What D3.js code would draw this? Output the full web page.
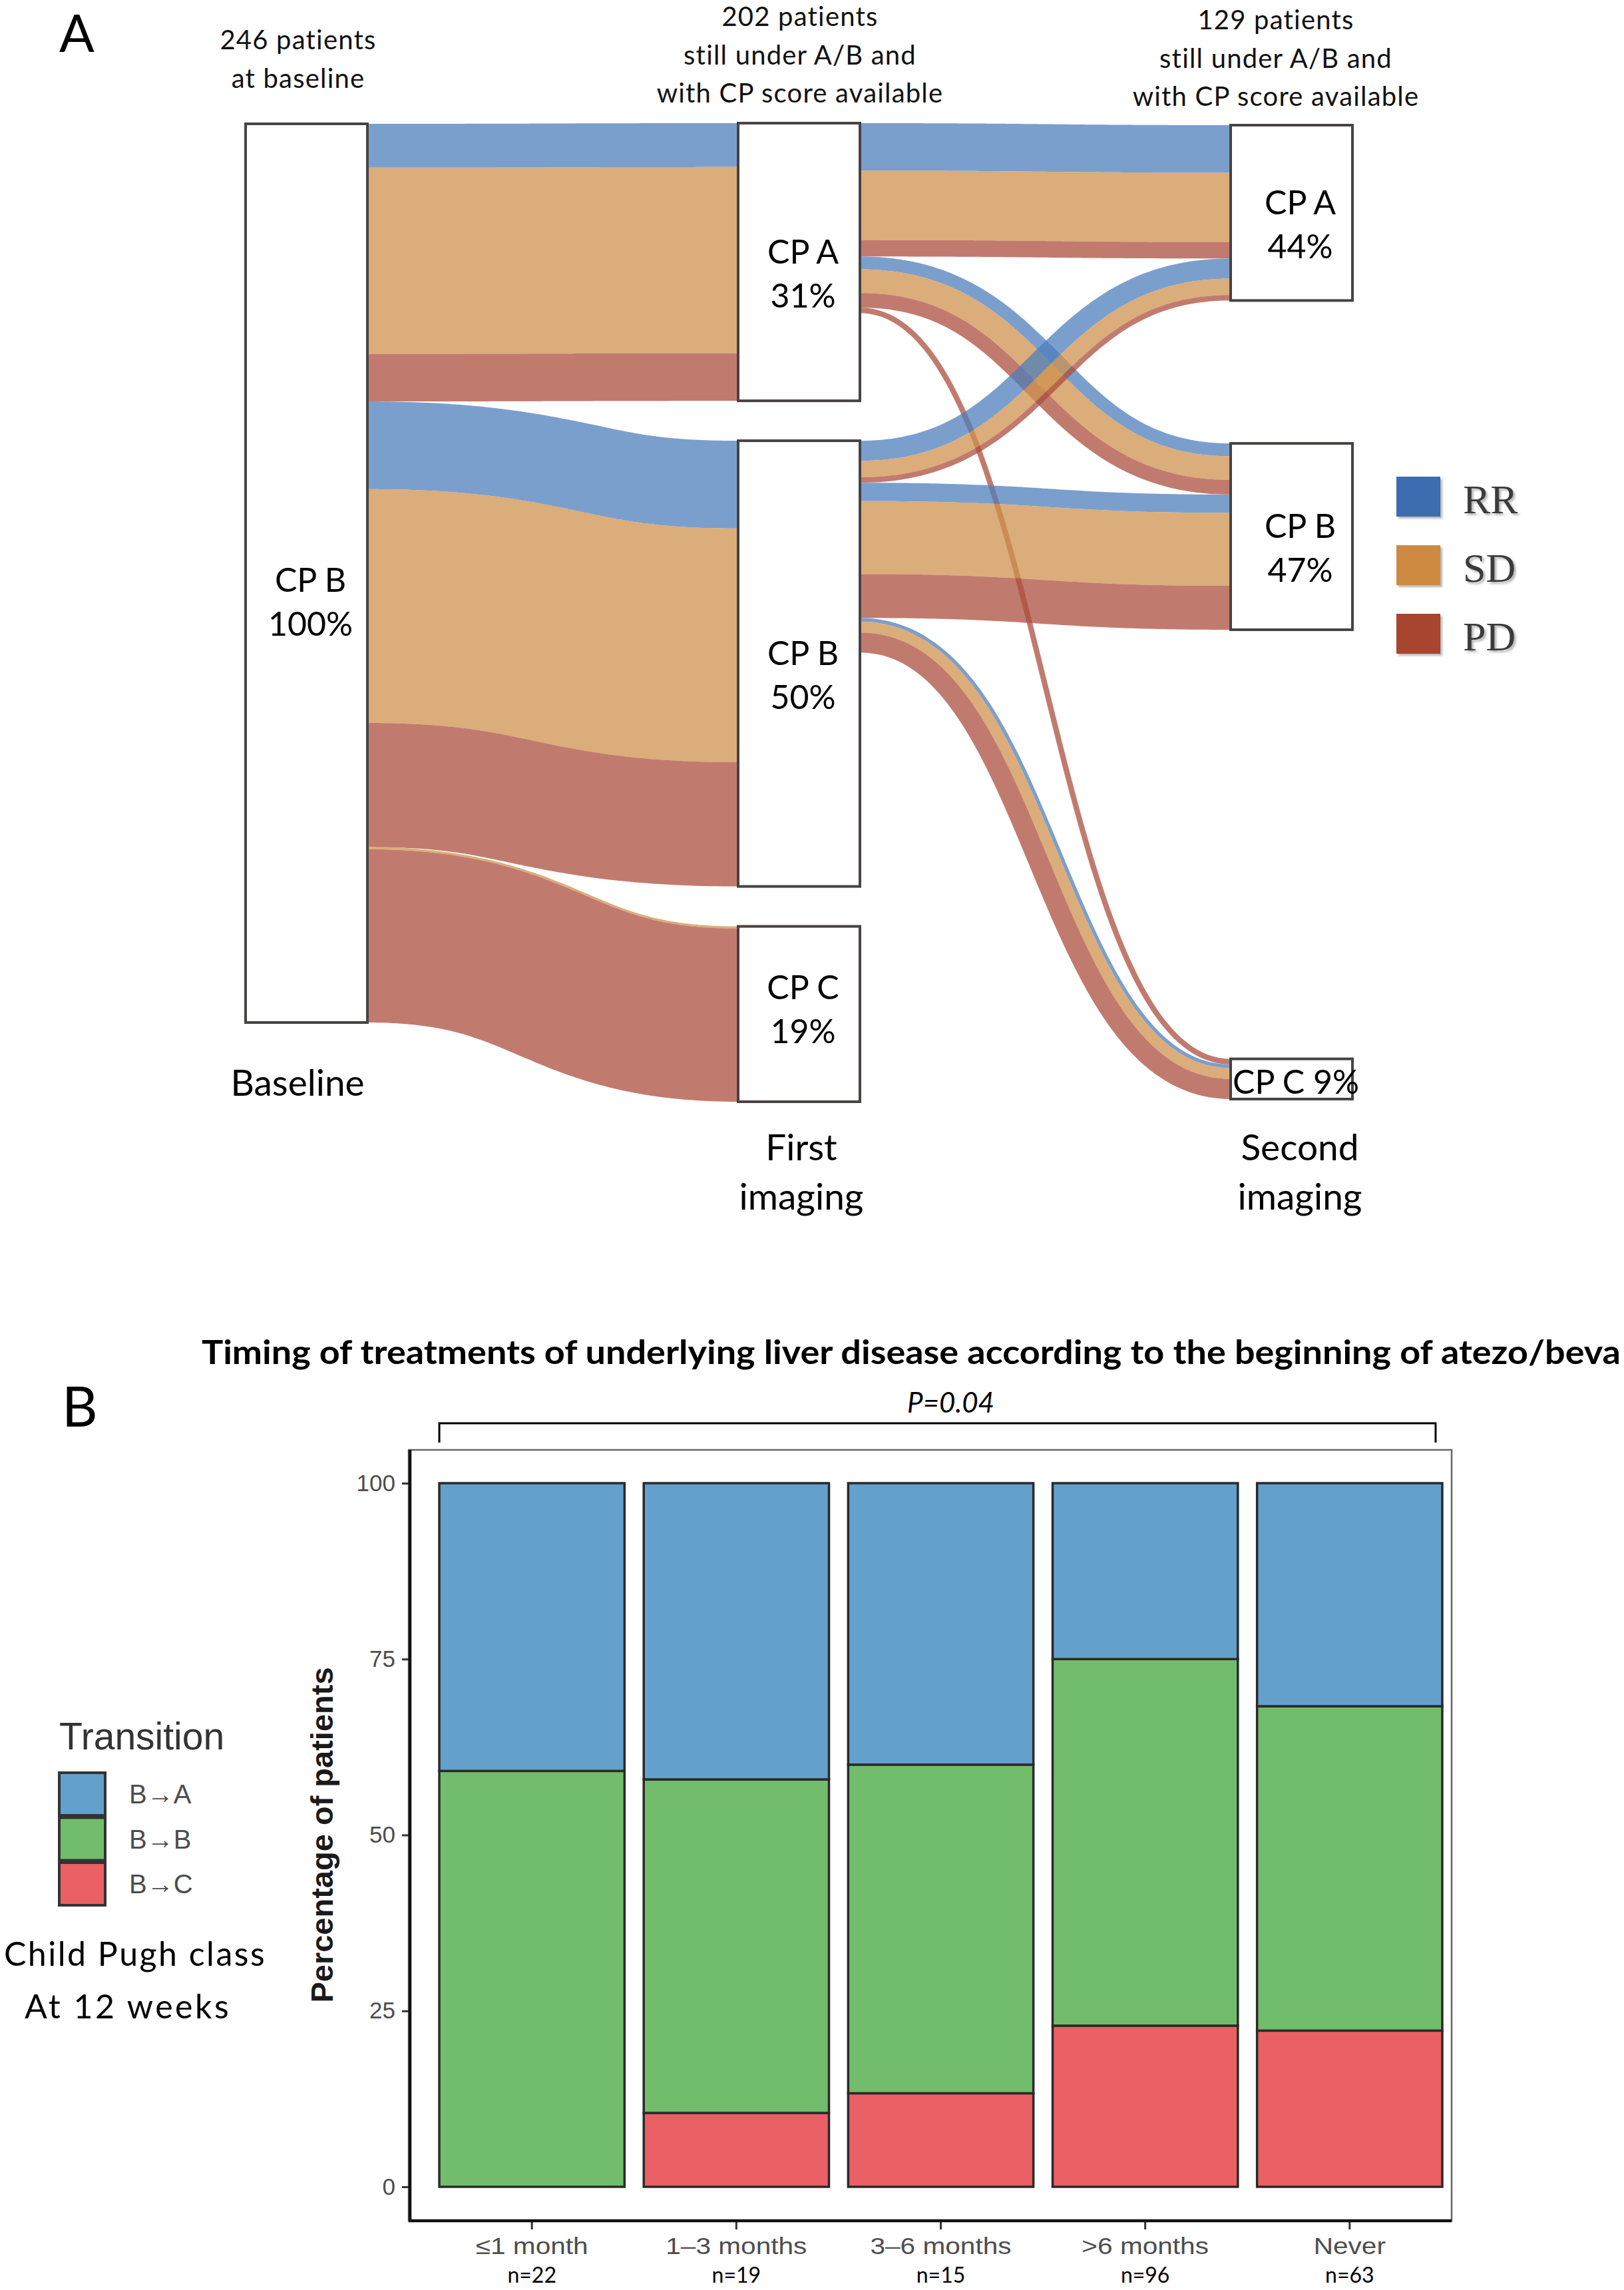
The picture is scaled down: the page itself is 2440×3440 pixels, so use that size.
<!DOCTYPE html>
<html><head><meta charset="utf-8">
<script src="https://cdn.jsdelivr.net/npm/d3@7"></script>
<style>html,body{margin:0;padding:0;background:#fff;} svg{display:block;}</style>
</head><body>
<svg id="chart" width="2440" height="3440"></svg>
<script>
// ================= DATA : panel A (Sankey) =================
const stageNames = ["Baseline", "First imaging", "Second imaging"];
const stageLabelLines = [["Baseline"], ["First", "imaging"], ["Second", "imaging"]];
const headerLines = [
  ["246 patients", "at baseline"],
  ["202 patients", "still under A/B and", "with CP score available"],
  ["129 patients", "still under A/B and", "with CP score available"]
];
const stageNodes = [["CP B"], ["CP A", "CP B", "CP C"], ["CP A", "CP B", "CP C"]];
const nodePercents = [["100%"], ["31%", "50%", "19%"], ["44%", "47%", "9%"]];
const responses = ["RR", "SD", "PD"];
const baselinePatients = 246;
// patients flowing from baseline to first imaging, split by response
const flowsBaselineToFirst = [
  { from: "CP B", to: "CP A", RR: 12, SD: 51, PD: 13 },
  { from: "CP B", to: "CP B", RR: 24, SD: 64, PD: 34 },
  { from: "CP B", to: "CP C", RR: 0, SD: 0.6, PD: 47.4 }
];
// patients flowing from first to second imaging, split by response
const flowsFirstToSecond = [
  { from: "CP A", to: "CP A", RR: 13, SD: 19, PD: 4.5 },
  { from: "CP A", to: "CP B", RR: 3.5, SD: 6.5, PD: 4 },
  { from: "CP A", to: "CP C", RR: 0, SD: 0, PD: 1.5 },
  { from: "CP B", to: "CP A", RR: 5.5, SD: 4.5, PD: 1.5 },
  { from: "CP B", to: "CP B", RR: 5, SD: 20, PD: 12 },
  { from: "CP B", to: "CP C", RR: 1, SD: 3, PD: 5.5 }
];

// ================= DATA : panel B (stacked bars) =================
const timingCats = ["≤1 month", "1–3 months", "3–6 months", ">6 months", "Never"];
const timingN = [22, 19, 15, 96, 63];
const transitions = ["B→A", "B→B", "B→C"];
const pctBtoA = [40.9, 42.1, 40.0, 25.0, 31.7];
const pctBtoB = [59.1, 47.4, 46.7, 52.1, 46.1];
const pctBtoC = [0, 10.5, 13.3, 22.9, 22.2];
const yTickValues = [0, 25, 50, 75, 100];
const titleB = "Timing of treatments of underlying liver disease according to the beginning of atezo/beva";
const pValueText = "P=0.04";

// ================= STYLE / LAYOUT =================
const respFill = { RR: "#4d7dbc", SD: "#cf914b", PD: "#ab4d3b" };
const respLegend = { RR: "#3d6db0", SD: "#cf8a42", PD: "#a8442f" };
const transFill = { "B→A": "#63a0cc", "B→B": "#72bd6b", "B→C": "#ea6064" };
const calibri = "Lato, 'Open Sans', sans-serif";
const arial = "'Liberation Sans', Arial, sans-serif";

const svg = d3.select("#chart");
svg.append("rect").attr("width", 2440).attr("height", 3440).attr("fill", "#fff");

const defs = svg.append("defs");
const f = defs.append("filter").attr("id", "shadow").attr("x", "-20%").attr("y", "-20%").attr("width", "150%").attr("height", "150%");
f.append("feDropShadow").attr("dx", 3).attr("dy", 3).attr("stdDeviation", 1.5).attr("flood-color", "#999").attr("flood-opacity", 0.7);

// ---------------- Panel A ----------------
const gA = svg.append("g");
const nodeW = 183;
const xStage = d3.scalePoint().domain(stageNames).range([369, 1849]);
const vScale = d3.scaleLinear().domain([0, baselinePatients]).range([0, 1350]);
const nodeGap = 60;
const stageTop = [186, 185];
const secondAlign = { "CP A": ["top", 3], "CP B": ["top", 4], "CP C": ["bottom", -4] };

const flowSets = [flowsBaselineToFirst, flowsFirstToSecond];
const nodes = {};
stageNodes.forEach((names, s) => names.forEach((n, i) => {
  nodes[s + "|" + n] = { stage: s, name: n, idx: i, pct: nodePercents[s][i], inV: 0, outV: 0 };
}));
flowSets.forEach((fs, s) => fs.forEach(fl => {
  const tot = d3.sum(responses, r => fl[r]);
  nodes[s + "|" + fl.from].outV += tot;
  nodes[(s + 1) + "|" + fl.to].inV += tot;
}));
Object.values(nodes).forEach(n => { n.value = Math.max(n.inV, n.outV); n.x = xStage(stageNames[n.stage]); });

[0, 1].forEach(s => {
  let y = stageTop[s];
  stageNodes[s].forEach(name => {
    const n = nodes[s + "|" + name];
    n.y0 = y; n.y1 = y + vScale(n.value); y = n.y1 + nodeGap;
  });
});
stageNodes[2].forEach(name => {
  const n = nodes["2|" + name], ref = nodes["1|" + name];
  const [mode, shift] = secondAlign[name];
  const h = vScale(n.value);
  if (mode === "top") { n.y0 = ref.y0 + shift; n.y1 = n.y0 + h; }
  else { n.y1 = ref.y1 + shift; n.y0 = n.y1 - h; }
});

// groups = one (source,target) bundle, containing sub-links by response
const groups = [];
const links = [];
flowSets.forEach((fs, s) => fs.forEach(fl => {
  const g = { src: nodes[s + "|" + fl.from], tgt: nodes[(s + 1) + "|" + fl.to], subs: [] };
  responses.forEach(r => { if (fl[r] > 0) { const l = { g, r, v: fl[r] }; g.subs.push(l); links.push(l); } });
  if (g.subs.length) groups.push(g);
}));
Object.values(nodes).forEach(n => { n.so = n.y0; n.to = n.y0; });
groups.forEach(g => {
  g.W = d3.sum(g.subs, l => vScale(l.v));
  g.sy = g.src.so + g.W / 2; g.src.so += g.W;
  g.ty = g.tgt.to + g.W / 2; g.tgt.to += g.W;
  let acc = 0;
  g.subs.forEach(l => { l.w = vScale(l.v); l.off = acc + l.w / 2 - g.W / 2; acc += l.w; });
});

// sub-links drawn as bands of constant width parallel to the bundle's centre curve
const lineGen = d3.line().curve(d3.curveLinear);
function band(l) {
  const g = l.g;
  const x0 = g.src.x + nodeW, x1 = g.tgt.x, xm = (x0 + x1) / 2;
  const P = [[x0, g.sy], [xm, g.sy], [xm, g.ty], [x1, g.ty]];
  const N = 90, top = [], bot = [];
  for (let i = 0; i <= N; i++) {
    const t = i / N, u = 1 - t;
    const bx = u*u*u*P[0][0] + 3*u*u*t*P[1][0] + 3*u*t*t*P[2][0] + t*t*t*P[3][0];
    const by = u*u*u*P[0][1] + 3*u*u*t*P[1][1] + 3*u*t*t*P[2][1] + t*t*t*P[3][1];
    const dx = 3*u*u*(P[1][0]-P[0][0]) + 6*u*t*(P[2][0]-P[1][0]) + 3*t*t*(P[3][0]-P[2][0]);
    const dy = 3*u*u*(P[1][1]-P[0][1]) + 6*u*t*(P[2][1]-P[1][1]) + 3*t*t*(P[3][1]-P[2][1]);
    const len = Math.hypot(dx, dy) || 1;
    const nx = -dy / len, ny = dx / len;
    const a = l.off - l.w / 2, b = l.off + l.w / 2;
    top.push([bx + nx * a, by + ny * a]);
    bot.push([bx + nx * b, by + ny * b]);
  }
  return lineGen(top.concat(bot.reverse())) + "Z";
}

gA.append("g").selectAll("path").data(links).join("path")
  .attr("d", band)
  .attr("fill", d => respFill[d.r])
  .attr("fill-opacity", 0.74);

gA.append("g").selectAll("rect").data(Object.values(nodes)).join("rect")
  .attr("x", d => d.x).attr("y", d => d.y0)
  .attr("width", nodeW).attr("height", d => d.y1 - d.y0)
  .attr("fill", "#fff").attr("stroke", "#474343").attr("stroke-width", 4);

// node labels
const labelDy = { "0|CP B": 28, "1|CP C": -22 };
Object.values(nodes).forEach(n => {
  const key = n.stage + "|" + n.name;
  const cx = n.x + nodeW / 2 + (n.stage === 2 ? 13 : 6);
  if (n.stage === 2 && n.name === "CP C") {
    gA.append("text").attr("x", n.x + 3).attr("y", n.y1 - 8)
      .attr("font-family", calibri).attr("font-size", 50).attr("fill", "#000")
      .text(n.name + " " + n.pct);
    return;
  }
  const yc = (n.y0 + n.y1) / 2 + (labelDy[key] || 2);
  [n.name, n.pct].forEach((t, i) => {
    gA.append("text").attr("x", cx).attr("y", yc + i * 66)
      .attr("text-anchor", "middle").attr("font-family", calibri)
      .attr("font-size", 50).attr("fill", "#000").text(t);
  });
});

// headers above stages
const headerCx = [448, 1202, 1917];
const headerFirstBaseline = [74, 39, 44];
headerLines.forEach((lines, s) => lines.forEach((t, i) => {
  gA.append("text").attr("x", headerCx[s]).attr("y", headerFirstBaseline[s] + i * 57.5)
    .attr("text-anchor", "middle").attr("font-family", calibri).attr("font-size", 40)
    .attr("letter-spacing", 1.2).attr("fill", "#111").text(t);
}));

// stage labels below
const stageLabelCx = [447, 1204, 1953];
const stageLabelBaseline = [1646, 1743, 1743];
stageLabelLines.forEach((lines, s) => lines.forEach((t, i) => {
  gA.append("text").attr("x", stageLabelCx[s]).attr("y", stageLabelBaseline[s] + i * 74)
    .attr("text-anchor", "middle").attr("font-family", calibri).attr("font-size", 55)
    .attr("fill", "#000").text(t);
}));

// response legend
const legA = gA.append("g");
responses.forEach((r, i) => {
  const yTop = 716 + i * 103;
  legA.append("rect").attr("x", 2098).attr("y", yTop).attr("width", 66).attr("height", 60)
    .attr("fill", respLegend[r]).attr("filter", "url(#shadow)");
  legA.append("text").attr("x", 2198).attr("y", yTop + 55)
    .attr("font-family", "'Liberation Serif', 'Times New Roman', serif").attr("font-size", 62)
    .attr("fill", "#3a3a3a").attr("filter", "url(#shadow)").text(r);
});

// panel letter
svg.append("text").attr("x", 89).attr("y", 78).attr("font-family", calibri).attr("font-size", 78).text("A");

// ---------------- Panel B ----------------
svg.append("text").attr("x", 93).attr("y", 2143).attr("font-family", calibri).attr("font-size", 83).text("B");

const panel = { left: 614, right: 2181, top: 2178, bottom: 3336 };
const x = d3.scaleBand().domain(timingCats).range([645.6, 2181.4]).paddingInner(0.094).paddingOuter(0.047);
const y = d3.scaleLinear().domain([0, 100]).range([3285, 2228]);

svg.append("text").attr("x", 303).attr("y", 2049)
  .attr("font-family", calibri).attr("font-weight", 700).attr("font-size", 50)
  .attr("textLength", 2132).attr("lengthAdjust", "spacingAndGlyphs")
  .attr("fill", "#000").text(titleB);

// bracket + p value
const bx0 = x(timingCats[0]), bx1 = x(timingCats[timingCats.length - 1]) + x.bandwidth() - 10;
svg.append("path")
  .attr("d", `M${bx0},2167 V2138 H${bx1} V2167`)
  .attr("fill", "none").attr("stroke", "#000").attr("stroke-width", 3);
svg.append("text").attr("x", (bx0 + bx1) / 2 + 20).attr("y", 2122)
  .attr("text-anchor", "middle").attr("font-family", calibri).attr("font-style", "italic")
  .attr("font-size", 42).attr("fill", "#000").text(pValueText);

// panel border
svg.append("rect").attr("x", panel.left).attr("y", panel.top)
  .attr("width", panel.right - panel.left).attr("height", panel.bottom - panel.top)
  .attr("fill", "none").attr("stroke", "#666").attr("stroke-width", 2.5);

// stacked bars
const rows = timingCats.map((c, i) => ({ cat: c, "B→A": pctBtoA[i], "B→B": pctBtoB[i], "B→C": pctBtoC[i] }));
const stack = d3.stack().keys(["B→C", "B→B", "B→A"])(rows);
svg.append("g").selectAll("g").data(stack).join("g")
  .attr("fill", d => transFill[d.key])
  .selectAll("rect").data(d => d.filter(s => s[1] - s[0] > 0)).join("rect")
  .attr("x", d => x(d.data.cat)).attr("width", x.bandwidth())
  .attr("y", d => y(d[1])).attr("height", d => y(d[0]) - y(d[1]))
  .attr("stroke", "#2a2a2a").attr("stroke-width", 3.5);

// axes
const yAxisG = svg.append("g").attr("transform", `translate(${panel.left},0)`)
  .call(d3.axisLeft(y).tickValues(yTickValues).tickSize(10).tickPadding(10));
yAxisG.select(".domain").remove();
yAxisG.selectAll(".tick line").attr("stroke", "#333").attr("stroke-width", 3);
yAxisG.selectAll(".tick text").attr("font-family", arial).attr("font-size", 35).attr("fill", "#4d4d4d");

const xAxisG = svg.append("g").attr("transform", `translate(0,${panel.bottom})`)
  .call(d3.axisBottom(x).tickSize(13).tickPadding(12));
xAxisG.select(".domain").remove();
xAxisG.selectAll(".tick line").attr("stroke", "#333").attr("stroke-width", 3);
xAxisG.selectAll(".tick text").attr("font-family", arial).attr("font-size", 35)
  .attr("fill", "#4d4d4d").attr("transform", "scale(1.16,1)");

svg.append("line").attr("x1", panel.left + 2).attr("x2", panel.left + 2)
  .attr("y1", panel.top).attr("y2", panel.bottom + 2).attr("stroke", "#111").attr("stroke-width", 4.5);
svg.append("line").attr("x1", panel.left).attr("x2", panel.right)
  .attr("y1", panel.bottom).attr("y2", panel.bottom).attr("stroke", "#111").attr("stroke-width", 4.5);

// n labels
svg.append("g").selectAll("text").data(timingCats).join("text")
  .attr("x", d => x(d) + x.bandwidth() / 2).attr("y", 3429)
  .attr("text-anchor", "middle").attr("font-family", calibri).attr("font-size", 32)
  .attr("fill", "#000").text((d, i) => "n=" + timingN[i]);

// y-axis title
svg.append("text").attr("transform", `translate(500,${(y(0) + y(100)) / 2}) rotate(-90)`)
  .attr("text-anchor", "middle").attr("font-family", arial).attr("font-weight", 700)
  .attr("font-size", 47).attr("fill", "#1a1a1a").text("Percentage of patients");

// legend B
const legB = svg.append("g");
legB.append("text").attr("x", 89).attr("y", 2628).attr("font-family", arial)
  .attr("font-size", 57).attr("fill", "#333").text("Transition");
transitions.forEach((t, i) => {
  const yTop = 2663 + i * 67.5;
  legB.append("rect").attr("x", 89).attr("y", yTop).attr("width", 69).attr("height", 64)
    .attr("fill", transFill[t]).attr("stroke", "#333").attr("stroke-width", 4);
  legB.append("text").attr("x", 194).attr("y", yTop + 46).attr("font-family", arial)
    .attr("font-size", 40).attr("fill", "#4d4d4d").text(t);
});
legB.append("text").attr("x", 203).attr("y", 2953).attr("text-anchor", "middle")
  .attr("font-family", calibri).attr("font-size", 50).attr("letter-spacing", 2.5)
  .attr("fill", "#000").text("Child Pugh class");
legB.append("text").attr("x", 192).attr("y", 3032).attr("text-anchor", "middle")
  .attr("font-family", calibri).attr("font-size", 50).attr("letter-spacing", 3.5)
  .attr("fill", "#000").text("At 12 weeks");
</script>
</body></html>
